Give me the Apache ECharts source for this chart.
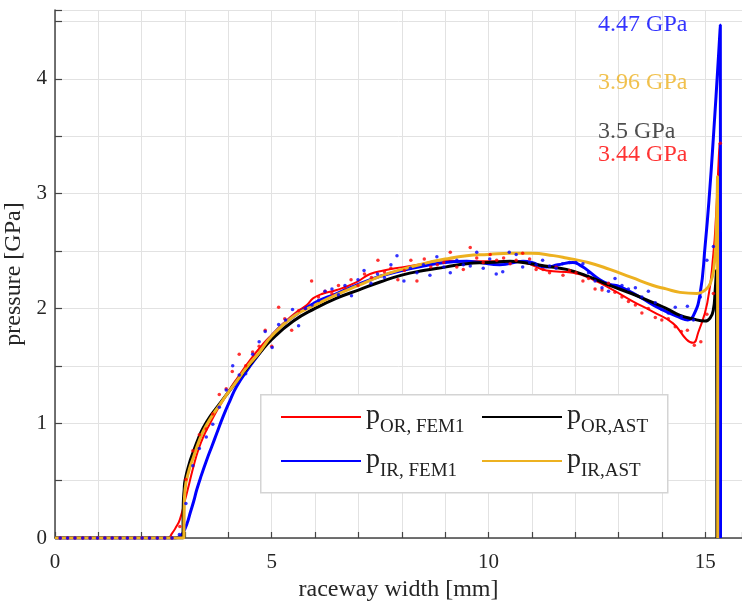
<!DOCTYPE html>
<html><head><meta charset="utf-8">
<script src="https://cdn.jsdelivr.net/npm/echarts@6/dist/echarts.min.js"></script>
<style>html,body{margin:0;padding:0;background:#fff}#c{width:742px;height:602px}</style>
</head><body><div id="c"></div>
<script>
// ---- data ----
const seriesNames = ['p_OR, FEM1', 'p_IR, FEM1', 'p_OR,AST', 'p_IR,AST'];
const legendSubs = ['OR, FEM1', 'IR, FEM1', 'OR,AST', 'IR,AST'];
const xTickLabels = [0, 5, 10, 15];
const yTickLabels = [0, 1, 2, 3, 4];

const pOrFem1 = [[0,0],[2.6,0],[2.7,0.04],[2.8,0.1],[2.88,0.16],[3.0,0.33],[3.1,0.48],[3.2,0.63],[3.3,0.76],[3.42,0.88],[3.58,1.0],[3.72,1.1],[3.88,1.2],[4.04,1.3],[4.2,1.39],[4.5,1.55],[4.8,1.69],[5.0,1.77],[5.27,1.87],[5.58,1.97],[5.81,2.03],[5.96,2.09],[6.19,2.13],[6.5,2.16],[6.96,2.23],[7.27,2.3],[7.58,2.33],[8.03,2.36],[8.5,2.39],[8.95,2.42],[9.4,2.41],[9.88,2.41],[10.3,2.41],[10.8,2.4],[11.34,2.33],[11.95,2.31],[12.42,2.25],[12.88,2.16],[13.34,2.06],[13.8,1.97],[14.26,1.87],[14.57,1.73],[14.72,1.70],[14.84,1.79],[15.05,2.05],[15.19,2.48],[15.25,2.8],[15.3,3.2],[15.33,3.44],[15.335,0]];

const pIrFem1 = [[0,0],[2.77,0],[2.9,0.02],[2.96,0.05],[3.05,0.13],[3.12,0.22],[3.2,0.32],[3.27,0.42],[3.38,0.55],[3.5,0.68],[3.62,0.8],[3.73,0.91],[3.88,1.06],[4.04,1.2],[4.19,1.32],[4.45,1.47],[4.7,1.6],[5.0,1.76],[5.5,1.93],[6.0,2.05],[6.5,2.13],[7.0,2.21],[7.5,2.28],[8.0,2.33],[8.5,2.37],[9.0,2.4],[9.5,2.41],[9.8,2.4],[10.26,2.38],[10.8,2.41],[11.0,2.4],[11.34,2.36],[11.6,2.38],[11.95,2.4],[12.1,2.38],[12.26,2.34],[12.57,2.25],[12.8,2.21],[13.03,2.19],[13.49,2.1],[13.95,2.0],[14.42,1.92],[14.6,1.9],[14.72,1.93],[14.88,2.12],[15.0,2.55],[15.1,3.0],[15.2,3.55],[15.3,4.15],[15.35,4.47],[15.355,0]];

const pOrAst = [[0,0],[2.95,0],[2.96,0.3],[2.98,0.42],[3.0,0.5],[3.1,0.65],[3.2,0.76],[3.3,0.86],[3.42,0.96],[3.6,1.07],[3.8,1.17],[4.0,1.27],[4.2,1.37],[4.45,1.49],[4.7,1.6],[5.0,1.73],[5.5,1.89],[6.0,2.0],[6.5,2.09],[7.0,2.16],[7.5,2.23],[8.0,2.29],[8.5,2.33],[9.0,2.36],[9.5,2.39],[10.0,2.4],[10.5,2.41],[10.8,2.4],[11.3,2.37],[11.8,2.34],[12.3,2.28],[12.8,2.2],[13.3,2.13],[13.8,2.05],[14.1,2.0],[14.42,1.94],[14.7,1.91],[15.0,1.89],[15.12,1.92],[15.19,1.99],[15.23,2.15],[15.26,2.33],[15.27,0]];

const pIrAst = [[0,0],[2.97,0],[2.98,0.25],[3.0,0.42],[3.1,0.6],[3.19,0.7],[3.3,0.82],[3.42,0.93],[3.6,1.05],[3.8,1.16],[4.0,1.27],[4.2,1.37],[4.45,1.5],[4.7,1.61],[5.0,1.76],[5.5,1.93],[6.0,2.03],[6.5,2.12],[7.0,2.2],[7.5,2.28],[8.0,2.34],[8.5,2.39],[9.0,2.43],[9.5,2.46],[10.0,2.47],[10.5,2.48],[11.0,2.48],[11.5,2.46],[11.8,2.44],[12.3,2.4],[12.8,2.34],[13.3,2.27],[13.8,2.2],[14.1,2.17],[14.42,2.14],[14.81,2.13],[15.0,2.16],[15.12,2.22],[15.2,2.35],[15.25,2.6],[15.285,3.15],[15.29,0]];

const dotsOrFem1 = [[0.12,0],[0.29,0],[0.46,0],[0.64,0],[0.81,0],[0.98,0],[1.15,0],[1.32,0],[1.5,0],[1.67,0],[1.84,0],[2.01,0],[2.18,0],[2.36,0],[2.53,0],[2.7,0],[2.88,0.1],[3.02,0.51],[3.18,0.76],[3.33,0.9],[3.49,0.95],[3.64,1.08],[3.79,1.25],[3.95,1.3],[4.09,1.45],[4.25,1.6],[4.4,1.5],[4.56,1.62],[4.71,1.67],[4.85,1.81],[5.0,1.67],[5.16,2.01],[5.3,1.91],[5.46,1.81],[5.62,1.98],[5.77,2.0],[5.92,2.24],[6.08,2.1],[6.23,2.15],[6.39,2.13],[6.54,2.2],[6.69,2.18],[6.83,2.25],[6.99,2.2],[7.14,2.3],[7.3,2.27],[7.45,2.42],[7.6,2.32],[7.75,2.35],[7.91,2.25],[8.06,2.33],[8.21,2.42],[8.35,2.24],[8.52,2.43],[8.67,2.36],[8.82,2.38],[8.97,2.4],[9.12,2.49],[9.27,2.36],[9.42,2.34],[9.58,2.53],[9.73,2.44],[9.88,2.4],[10.04,2.47],[10.19,2.42],[10.35,2.44],[10.5,2.39],[10.64,2.42],[10.79,2.48],[10.95,2.43],[11.1,2.34],[11.26,2.34],[11.41,2.31],[11.56,2.36],[11.72,2.29],[11.87,2.33],[12.02,2.31],[12.18,2.24],[12.31,2.26],[12.46,2.17],[12.62,2.16],[12.77,2.22],[12.92,2.14],[13.08,2.1],[13.23,2.06],[13.39,2.03],[13.54,1.96],[13.69,2.0],[13.85,1.92],[14.0,1.9],[14.15,1.91],[14.31,1.84],[14.45,1.8],[14.59,1.81],[14.75,1.68],[14.9,1.71],[15.04,1.95],[15.19,2.13],[15.35,3.44]];

const dotsIrFem1 = [[0.12,0],[0.29,0],[0.46,0],[0.64,0],[0.81,0],[0.98,0],[1.15,0],[1.32,0],[1.5,0],[1.67,0],[1.84,0],[2.01,0],[2.18,0],[2.36,0],[2.53,0],[2.7,0],[2.87,0.03],[3.02,0.3],[3.18,0.63],[3.33,0.78],[3.49,0.88],[3.64,0.99],[3.79,1.14],[3.95,1.29],[4.1,1.5],[4.25,1.42],[4.4,1.43],[4.56,1.6],[4.71,1.71],[4.85,1.8],[5.01,1.66],[5.16,1.86],[5.32,1.9],[5.48,1.99],[5.62,1.85],[5.78,2.0],[5.93,2.03],[6.08,2.07],[6.23,2.15],[6.39,2.17],[6.54,2.12],[6.69,2.2],[6.84,2.11],[6.99,2.25],[7.13,2.33],[7.29,2.22],[7.44,2.3],[7.6,2.27],[7.75,2.38],[7.89,2.46],[8.05,2.24],[8.2,2.35],[8.35,2.31],[8.5,2.38],[8.65,2.29],[8.81,2.45],[8.97,2.36],[9.12,2.31],[9.27,2.42],[9.42,2.38],[9.58,2.37],[9.73,2.49],[9.88,2.35],[10.03,2.43],[10.18,2.3],[10.33,2.32],[10.48,2.49],[10.64,2.47],[10.79,2.36],[10.95,2.4],[11.1,2.38],[11.25,2.42],[11.41,2.37],[11.56,2.35],[11.71,2.39],[11.87,2.4],[12.02,2.4],[12.18,2.39],[12.31,2.31],[12.46,2.24],[12.62,2.18],[12.77,2.15],[12.92,2.26],[13.08,2.2],[13.23,2.17],[13.39,2.18],[13.54,2.1],[13.69,2.15],[13.85,2.05],[14.0,1.99],[14.15,1.96],[14.31,2.01],[14.45,1.93],[14.59,2.02],[14.73,1.9],[14.89,2.1],[15.04,2.42],[15.19,2.54]];

const annotTexts = ['4.47 GPa', '3.96 GPa', '3.5 GPa', '3.44 GPa'];

// ---- styles ----
const FONT = 'Liberation Serif';
const colors = ['#ff0000', '#0000ff', '#000000', '#EDB120'];
const widths = [2, 3, 3, 3];
const lineData = [pOrFem1, pIrFem1, pOrAst, pIrAst];
const annotPlace = [[12.53, 4.47], [12.53, 3.97], [12.53, 3.54], [12.53, 3.34]];
const annotColors = ['#0000ff', '#EDB120', '#222222', '#ff0000'];

const chart = echarts.init(document.getElementById('c'), null, {renderer: 'canvas'});

const series = lineData.map((d, i) => ({
  name: seriesNames[i], type: 'line', data: d, showSymbol: false, symbol: 'none',
  smooth: 0.5,
  lineStyle: {color: colors[i], width: widths[i]}, itemStyle: {color: colors[i]},
  z: 2, animation: false
}));
series.push({
  name: 'dotsOR', type: 'scatter', data: dotsOrFem1, symbol: 'circle', symbolSize: 3.5,
  itemStyle: {color: '#ff0000'}, z: 3, animation: false
});
series.push({
  name: 'dotsIR', type: 'scatter', data: dotsIrFem1, symbol: 'circle', symbolSize: 3.5,
  itemStyle: {color: '#0000ff'}, z: 3, animation: false
});
series.push({
  name: 'annot', type: 'scatter', symbolSize: 0, z: 5, animation: false,
  data: annotTexts.map((t, i) => ({
    value: annotPlace[i],
    label: {show: true, position: 'right', distance: 0, formatter: t,
      color: annotColors[i], fontFamily: FONT, fontSize: 24}
  }))
});

const legendText = {
  color: '#222', fontFamily: FONT,
  rich: {
    p: {fontSize: 28, fontFamily: FONT, color: '#222', lineHeight: 30, verticalAlign: 'top'},
    s: {fontSize: 19, fontFamily: FONT, color: '#222', lineHeight: 20, verticalAlign: 'top', padding: [16, 0, 0, 0]}
  }
};
const fmt = name => '{p|p}{s|' + legendSubs[seriesNames.indexOf(name)] + '}';
const legendBase = {
  orient: 'vertical', top: 402, itemWidth: 80, itemHeight: 14, itemGap: 9, padding: 0, z: 6,
  textStyle: legendText, formatter: fmt, selectedMode: false,
  itemStyle: {color: 'rgba(0,0,0,0)', borderColor: 'rgba(0,0,0,0)', borderWidth: 0, opacity: 0}
};

chart.setOption({
  backgroundColor: '#fff',
  animation: false,
  grid: {left: 55, right: 0, top: 10, bottom: 64, containLabel: false, outerBoundsMode: 'none'},
  xAxis: {
    type: 'value', min: 0, max: 15.85, interval: 1,
    name: 'raceway width [mm]', nameLocation: 'middle', nameGap: 37,
    nameTextStyle: {fontFamily: FONT, fontSize: 24, color: '#262626'},
    axisLine: {show: true, lineStyle: {color: '#444', width: 1.5}},
    axisTick: {show: true, inside: true, length: 6, lineStyle: {color: '#444', width: 1.2}},
    axisLabel: {fontFamily: FONT, fontSize: 21, color: '#262626', margin: 14,
      formatter: v => xTickLabels.includes(v) ? String(v) : ''},
    splitLine: {show: true, lineStyle: {color: '#e2e2e2', width: 1}}
  },
  yAxis: {
    type: 'value', min: 0, max: 4.6, interval: 0.5,
    name: 'pressure [GPa]', nameLocation: 'middle', nameGap: 27,
    nameTextStyle: {fontFamily: FONT, fontSize: 24, color: '#262626'},
    axisLine: {show: true, lineStyle: {color: '#444', width: 1.5}},
    axisTick: {show: true, inside: true, length: 7, lineStyle: {color: '#444', width: 1.2}},
    axisLabel: {fontFamily: FONT, fontSize: 21, color: '#262626', margin: 8,
      formatter: v => yTickLabels.includes(v) ? String(v) : ''},
    splitLine: {show: true, lineStyle: {color: '#e2e2e2', width: 1}}
  },
  graphic: [{
    type: 'rect', left: 260, top: 394, z: 3,
    shape: {width: 407, height: 98},
    style: {fill: '#fff', stroke: '#d4d4d4', lineWidth: 1.5}
  }],
  legend: [
    Object.assign({data: [seriesNames[0], seriesNames[1]], left: 280}, legendBase),
    Object.assign({data: [seriesNames[2], seriesNames[3]], left: 481}, legendBase)
  ],
  series: series
});
</script></body></html>
